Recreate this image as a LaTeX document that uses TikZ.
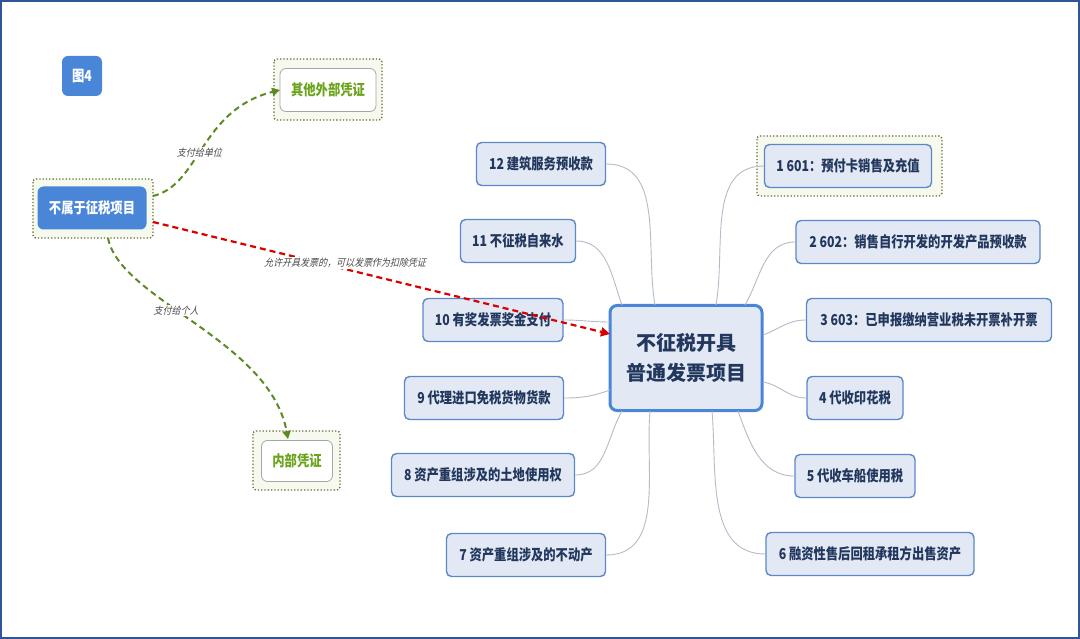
\documentclass[tikz,border=0pt]{standalone}
\usepackage{fontspec}
\setmainfont{Noto Sans CJK SC}
\newfontfamily\cjk{Noto Sans CJK SC}
\newfontfamily\cjkn[FakeStretch=0.82]{Noto Sans CJK SC}
\newfontfamily\cjkit[FakeSlant=0.25,FakeStretch=0.9]{Noto Sans CJK SC}
\usetikzlibrary{arrows.meta}
\definecolor{frameblue}{HTML}{2E5597}
\definecolor{boxfill}{HTML}{E2E9F4}
\definecolor{boxdraw}{HTML}{5C88C8}
\definecolor{textdark}{HTML}{22375E}
\definecolor{nodeblue}{HTML}{4A86D8}
\definecolor{olive}{HTML}{5E8A22}
\definecolor{dotline}{HTML}{6B6B35}
\definecolor{greenfill}{HTML}{F5F9EE}
\definecolor{greentext}{HTML}{6BA31C}
\definecolor{linkgray}{HTML}{B4BCC8}
\definecolor{labgray}{HTML}{4A4A4A}
\tikzset{
  item/.style={draw=boxdraw, line width=1.4pt, fill=boxfill, rounded corners=5pt,
    inner sep=0pt, font=\cjkn\bfseries\fontsize{15}{17}\selectfont, text=textdark,
    minimum height=43pt, align=center},
  centerbox/.style={draw=nodeblue, line width=3pt, fill=boxfill, rounded corners=7pt,
    minimum width=152pt, minimum height=105pt, align=center, text=textdark,
    font=\cjk\bfseries\fontsize{20}{30}\selectfont},
  bluebox/.style={fill=nodeblue, rounded corners=6pt, text=white, align=center,
    font=\cjkn\bfseries\fontsize{15}{17}\selectfont},
  outerdot/.style={draw=dotline, line width=1.3pt, dotted, fill=greenfill, rounded corners=3pt},
  greenbox/.style={draw=gray!70, line width=0.8pt, fill=white, rounded corners=6pt,
    text=greentext, font=\cjkn\bfseries\fontsize{15}{17}\selectfont},
  link/.style={draw=linkgray, line width=0.9pt},
  garrow/.style={draw=olive, line width=2pt, dash pattern=on 6pt off 4pt,
    -{Triangle[length=8pt,width=8pt,fill=olive]}},
  rarrow/.style={draw=red!85!black, line width=2.2pt, dash pattern=on 6pt off 4pt,
    -{Triangle[length=9pt,width=9pt,fill=red!85!black]}},
  lab/.style={text=labgray, font=\cjkit\fontsize{10}{11}\selectfont, fill=white, inner sep=1pt}
}
\begin{document}
\begin{tikzpicture}[x=1pt,y=-1pt]
\useasboundingbox (0,0) rectangle (1080,639);
\fill[white] (0,0) rectangle (1080,639);
\draw[frameblue, line width=2pt] (1,1) rectangle (1079,638);

% figure tag
\node[bluebox, minimum width=40pt, minimum height=40pt, inner sep=0pt] (fig) at (82,76) {图4};

% left green group
\draw[outerdot] (274,59) rectangle (382,120);
\node[greenbox, minimum width=96pt, minimum height=43pt] (ext) at (328,90) {其他外部凭证};
\draw[outerdot] (33,179) rectangle (153,238);
\node[bluebox, minimum width=109pt, minimum height=43pt] (src) at (92,208) {不属于征税项目};
\draw[outerdot] (253,431) rectangle (340,490);
\node[greenbox, minimum width=71pt, minimum height=41pt] (inn) at (297,461) {内部凭证};

% center
\node[centerbox] (c) at (686,358) {不征税开具\\普通发票项目};

% right items
\draw[outerdot] (757,136) rectangle (942,196);
\node[item, minimum width=167pt] (r1) at (848,166) {1 601：预付卡销售及充值};
\node[item, minimum width=244pt] (r2) at (918,242) {2 602：销售自行开发的开发产品预收款};
\node[item, minimum width=245pt] (r3) at (929,320) {3 603：已申报缴纳营业税未开票补开票};
\node[item, minimum width=96pt] (r4) at (855,398) {4 代收印花税};
\node[item, minimum width=120pt] (r5) at (855,476) {5 代收车船使用税};
\node[item, minimum width=208pt] (r6) at (870,554) {6 融资性售后回租承租方出售资产};

% left items
\node[item, minimum width=129pt] (l12) at (541,164) {12 建筑服务预收款};
\node[item, minimum width=115pt] (l11) at (518,241) {11 不征税自来水};
\node[item, minimum width=140pt] (l10) at (493,320) {10 有奖发票奖金支付};
\node[item, minimum width=159pt] (l9) at (484,398) {9 代理进口免税货物货款};
\node[item, minimum width=183pt] (l8) at (483,475) {8 资产重组涉及的土地使用权};
\node[item, minimum width=159pt] (l7) at (526,555) {7 资产重组涉及的不动产};

% thin links
\coordinate (c12) at (655,305);
\coordinate (c11) at (622,305);
\coordinate (c10) at (610,322);
\coordinate (c9) at (610,390);
\coordinate (c8) at (622,411);
\coordinate (c7) at (650,411);
\coordinate (c1) at (716,305);
\coordinate (c2) at (745,305);
\coordinate (c3) at (763,335);
\coordinate (c4) at (763,382);
\coordinate (c5) at (738,411);
\coordinate (c6) at (712,411);
\draw[link] (l12.east) to[out=0,in=100] (c12);
\draw[link] (l11.east) to[out=0,in=110] (c11);
\draw[link] (l10.east) to[out=0,in=180] (c10);
\draw[link] (l9.east) to[out=0,in=200] (c9);
\draw[link] (l8.east) to[out=0,in=240] (c8);
\draw[link] (l7.east) to[out=0,in=265] (c7);
\draw[link] (r1.west) to[out=180,in=80] (c1);
\draw[link] (r2.west) to[out=180,in=60] (c2);
\draw[link] (r3.west) to[out=180,in=20] (c3);
\draw[link] (r4.west) to[out=180,in=-10] (c4);
\draw[link] (r5.west) to[out=180,in=-70] (c5);
\draw[link] (r6.west) to[out=180,in=-85] (c6);

% arrows
\coordinate (s1) at (153,196);
\coordinate (s2) at (108,238);
\coordinate (s3) at (153,222);
\coordinate (t3) at (610,334);
\coordinate (t2) at (288,439);
\coordinate (t1) at (280,90);
\draw[garrow] (s1) .. controls (200,185) and (200,110) .. (t1)
  node[lab, pos=0.45] {支付给单位};
\draw[garrow] (s2) .. controls (120,300) and (270,340) .. (t2)
  node[lab, pos=0.42] {支付给个人};
\draw[rarrow] (s3) -- (t3);
\node[lab] (rl) at (345,263) {允许开具发票的，可以发票作为扣除凭证};
\end{tikzpicture}
\end{document}
